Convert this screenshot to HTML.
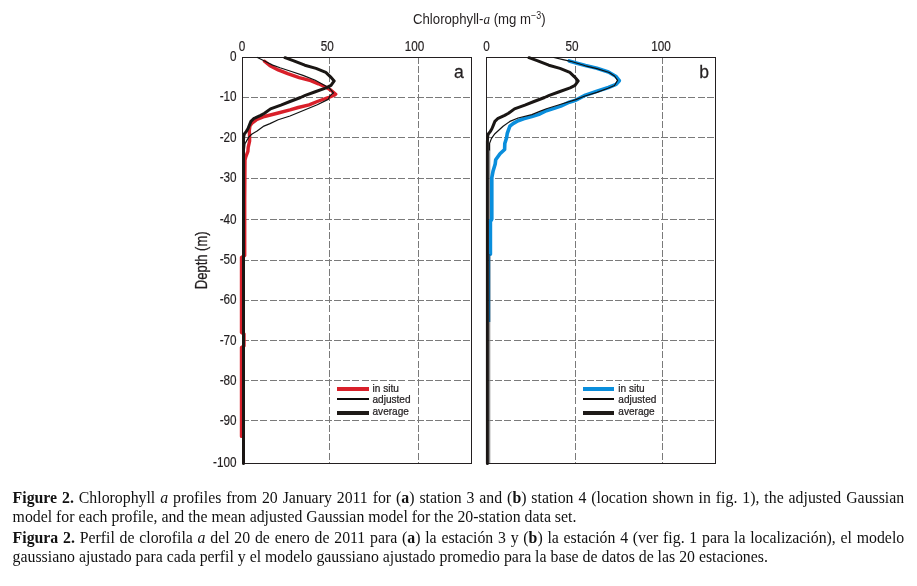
<!DOCTYPE html>
<html><head><meta charset="utf-8"><title>Figure 2</title>
<style>
html,body{margin:0;padding:0;background:#fff;}
body{width:917px;height:586px;position:relative;overflow:hidden;}
.gs{position:absolute;left:0;top:0;width:917px;height:586px;will-change:transform;}
.cap{position:absolute;left:12.6px;width:891.6px;font-family:"Liberation Serif","Times New Roman",serif;font-size:15.82px;line-height:20px;color:#111;white-space:nowrap;text-align:justify;text-align-last:justify;}
.cap.last{text-align:left;text-align-last:left;}
</style></head>
<body>
<div class="gs">
<svg width="917" height="470" viewBox="0 0 917 470" style="position:absolute;left:0;top:0">
<g stroke="#7a7a7a" stroke-width="1" stroke-dasharray="7 2.2" fill="none" shape-rendering="crispEdges">
<line x1="329.5" y1="57" x2="329.5" y2="463"/>
<line x1="418.5" y1="57" x2="418.5" y2="463"/>
<line x1="242" y1="97.5" x2="471" y2="97.5"/>
<line x1="242" y1="137.5" x2="471" y2="137.5"/>
<line x1="242" y1="178.5" x2="471" y2="178.5"/>
<line x1="242" y1="219.5" x2="471" y2="219.5"/>
<line x1="242" y1="260.5" x2="471" y2="260.5"/>
<line x1="242" y1="300.5" x2="471" y2="300.5"/>
<line x1="242" y1="340.5" x2="471" y2="340.5"/>
<line x1="242" y1="380.5" x2="471" y2="380.5"/>
<line x1="242" y1="420.5" x2="471" y2="420.5"/>
<line x1="575.5" y1="57" x2="575.5" y2="463"/>
<line x1="662.5" y1="57" x2="662.5" y2="463"/>
<line x1="486" y1="97.5" x2="715" y2="97.5"/>
<line x1="486" y1="137.5" x2="715" y2="137.5"/>
<line x1="486" y1="178.5" x2="715" y2="178.5"/>
<line x1="486" y1="219.5" x2="715" y2="219.5"/>
<line x1="486" y1="260.5" x2="715" y2="260.5"/>
<line x1="486" y1="300.5" x2="715" y2="300.5"/>
<line x1="486" y1="340.5" x2="715" y2="340.5"/>
<line x1="486" y1="380.5" x2="715" y2="380.5"/>
<line x1="486" y1="420.5" x2="715" y2="420.5"/>
</g>
<g stroke="#231f20" stroke-width="1" fill="none" shape-rendering="crispEdges">
<rect x="242.5" y="57.5" width="229" height="406"/>
<rect x="486.5" y="57.5" width="229" height="406"/>
</g>
<g fill="none" stroke-linejoin="round" stroke-linecap="round">
<polyline points="489.7,150.0 489.7,463.0" stroke="#777" stroke-width="1.1" stroke-linecap="butt"/>
<polyline points="264.5,61.2 270.0,65.8 278.2,69.9 287.7,73.6 299.2,77.6 310.7,80.7 318.4,83.8 326.1,87.3 330.7,90.0 335.7,94.2 334.7,95.0 328.2,97.7 317.3,101.5 309.1,104.8 298.2,107.5 290.0,109.9 278.2,113.0 264.5,116.5 256.4,119.8 252.0,123.1 249.9,126.1 249.3,130.9 249.6,137.0 249.6,141.1 248.2,147.3 247.9,151.4 245.8,156.8 245.0,160.2 244.7,200.0 244.7,255.5 241.5,257.5 241.5,332.5 244.0,334.0 244.0,346.0 241.5,347.5 241.5,436.4" stroke="#d9202a" stroke-width="3.4"/>
<polyline points="569.2,60.9 577.0,63.2 585.4,65.6 596.9,68.3 608.4,72.0 616.1,76.5 619.3,80.7 616.1,84.4 608.4,87.5 596.9,91.3 585.4,95.2 575.8,100.2 569.3,102.2 560.8,106.1 554.9,108.1 546.4,110.7 539.8,114.0 531.8,116.6 523.6,118.7 518.1,120.7 513.4,123.4 509.9,126.2 508.6,129.6 507.2,133.7 506.6,137.8 504.8,143.5 504.6,149.5 500.0,153.8 495.7,159.8 495.2,164.0 493.1,170.9 491.8,177.7 491.8,219.0 490.4,221.5 490.4,254.3" stroke="#0a8edc" stroke-width="3.6"/>
<polyline points="489.6,254.0 489.6,322.0" stroke="#0e5a8c" stroke-width="1.4" stroke-linecap="butt"/>
<polyline points="257.4,57.5 264.5,61.0 272.7,65.1 280.0,67.8 291.5,71.5 303.0,75.4 315.3,80.3 323.0,84.6 329.2,88.0 333.5,92.8 330.0,95.7 328.2,99.4 317.3,104.8 306.4,109.2 290.0,116.0 278.2,119.8 270.0,123.6 263.9,126.1 257.1,130.9 251.7,134.3 248.9,137.0 246.9,140.4 245.0,143.8 244.4,150.0 244.3,463.0" stroke="#111" stroke-width="1.2"/>
<polyline points="553.8,57.5 563.0,59.6 570.7,61.3 585.4,65.8 596.9,68.6 609.2,72.5 614.5,76.0 617.6,80.3 614.5,85.5 608.0,88.2 596.9,92.4 585.0,96.0 575.8,99.6 560.8,104.3 546.4,108.7 539.8,111.4 531.8,114.6 518.1,118.0 509.9,121.4 503.1,126.2 494.9,133.7 491.5,138.4 489.6,143.2 489.6,150.0" stroke="#111" stroke-width="1.2"/>
<polyline points="285.0,57.7 293.8,60.8 304.8,65.2 316.0,68.4 325.8,72.3 330.5,76.8 334.2,80.9 331.0,85.4 326.1,87.8 314.6,92.0 305.3,95.3 300.5,97.5 290.0,101.5 280.9,105.1 270.5,108.9 264.5,113.3 260.7,115.4 253.6,118.7 250.9,121.4 249.3,125.4 247.9,128.8 246.2,131.6 244.3,134.0 243.7,137.0 243.5,141.0 243.5,463.5" stroke="#1a1614" stroke-width="3"/>
<polyline points="529.0,57.7 537.8,60.8 548.8,65.2 560.0,68.4 569.8,72.3 574.5,76.8 578.2,80.9 575.0,85.4 570.1,87.8 558.6,92.0 549.3,95.3 544.5,97.5 534.0,101.5 524.9,105.1 514.5,108.9 508.5,113.3 504.7,115.4 497.6,118.7 494.9,121.4 493.3,125.4 491.9,128.8 490.2,131.6 488.3,134.0 488.0,134.5 487.6,137.5 487.4,141.5 487.4,463.5" stroke="#1a1614" stroke-width="3"/>
</g>
<g font-family="Liberation Sans, Arial, sans-serif" fill="#231f20">
<text transform="translate(242.0,50.8) scale(0.84,1)" font-size="14" text-anchor="middle" stroke="#231f20" stroke-width="0.2">0</text>
<text transform="translate(327.3,50.8) scale(0.84,1)" font-size="14" text-anchor="middle" stroke="#231f20" stroke-width="0.2">50</text>
<text transform="translate(414.5,50.8) scale(0.84,1)" font-size="14" text-anchor="middle" stroke="#231f20" stroke-width="0.2">100</text>
<text transform="translate(486.5,50.8) scale(0.84,1)" font-size="14" text-anchor="middle" stroke="#231f20" stroke-width="0.2">0</text>
<text transform="translate(572.0,50.8) scale(0.84,1)" font-size="14" text-anchor="middle" stroke="#231f20" stroke-width="0.2">50</text>
<text transform="translate(661.0,50.8) scale(0.84,1)" font-size="14" text-anchor="middle" stroke="#231f20" stroke-width="0.2">100</text>
<text transform="translate(236.6,61.1) scale(0.84,1)" font-size="14" text-anchor="end" stroke="#231f20" stroke-width="0.2">0</text>
<text transform="translate(236.6,101.1) scale(0.84,1)" font-size="14" text-anchor="end" stroke="#231f20" stroke-width="0.2">-10</text>
<text transform="translate(236.6,142.2) scale(0.84,1)" font-size="14" text-anchor="end" stroke="#231f20" stroke-width="0.2">-20</text>
<text transform="translate(236.6,182.2) scale(0.84,1)" font-size="14" text-anchor="end" stroke="#231f20" stroke-width="0.2">-30</text>
<text transform="translate(236.6,224.2) scale(0.84,1)" font-size="14" text-anchor="end" stroke="#231f20" stroke-width="0.2">-40</text>
<text transform="translate(236.6,264.2) scale(0.84,1)" font-size="14" text-anchor="end" stroke="#231f20" stroke-width="0.2">-50</text>
<text transform="translate(236.6,304.2) scale(0.84,1)" font-size="14" text-anchor="end" stroke="#231f20" stroke-width="0.2">-60</text>
<text transform="translate(236.6,345.2) scale(0.84,1)" font-size="14" text-anchor="end" stroke="#231f20" stroke-width="0.2">-70</text>
<text transform="translate(236.6,385.2) scale(0.84,1)" font-size="14" text-anchor="end" stroke="#231f20" stroke-width="0.2">-80</text>
<text transform="translate(236.6,425.2) scale(0.84,1)" font-size="14" text-anchor="end" stroke="#231f20" stroke-width="0.2">-90</text>
<text transform="translate(236.6,467.1) scale(0.84,1)" font-size="14" text-anchor="end" stroke="#231f20" stroke-width="0.2">-100</text>
<text transform="translate(458.9,77.8) scale(0.95,1)" font-size="18.5" text-anchor="middle" stroke="#231f20" stroke-width="0.25">a</text>
<text transform="translate(704.2,77.8) scale(0.95,1)" font-size="18.5" text-anchor="middle" stroke="#231f20" stroke-width="0.25">b</text>
<text transform="translate(413.0,23.6) scale(0.892,1)" font-size="14.8">Chlorophyll-<tspan font-family="Liberation Serif, serif" font-style="italic">a</tspan> (mg m<tspan font-size="10" dy="-4.3">&#8722;3</tspan><tspan dy="4.3">)</tspan></text>
<text transform="translate(207.3,260.3) rotate(-90) scale(0.765,1)" font-size="17" text-anchor="middle" stroke="#231f20" stroke-width="0.3">Depth (m)</text>
<rect x="337" y="387" width="32" height="4" fill="#d9202a"/>
<rect x="337" y="398" width="32" height="2" fill="#0d0b0a"/>
<rect x="337" y="411" width="32" height="4" fill="#1e1a17"/>
<text transform="translate(372.5,392.3) scale(0.9,1)" font-size="11.2" text-anchor="start" stroke="#231f20" stroke-width="0.25">in situ</text>
<text transform="translate(372.5,403.1) scale(0.9,1)" font-size="11.2" text-anchor="start" stroke="#231f20" stroke-width="0.25">adjusted</text>
<text transform="translate(372.5,415.0) scale(0.9,1)" font-size="11.2" text-anchor="start" stroke="#231f20" stroke-width="0.25">average</text>
<rect x="583" y="387" width="31" height="4" fill="#0a8edc"/>
<rect x="583" y="398" width="31" height="2" fill="#0d0b0a"/>
<rect x="583" y="411" width="31" height="4" fill="#1e1a17"/>
<text transform="translate(618.3,392.3) scale(0.9,1)" font-size="11.2" text-anchor="start" stroke="#231f20" stroke-width="0.25">in situ</text>
<text transform="translate(618.3,403.1) scale(0.9,1)" font-size="11.2" text-anchor="start" stroke="#231f20" stroke-width="0.25">adjusted</text>
<text transform="translate(618.3,415.0) scale(0.9,1)" font-size="11.2" text-anchor="start" stroke="#231f20" stroke-width="0.25">average</text>
</g>
</svg>

<div class="cap" style="top:487.96px"><b>Figure 2.</b> Chlorophyll <i>a</i> profiles from 20 January 2011 for (<b>a</b>) station 3 and (<b>b</b>) station 4 (location shown in fig. 1), the adjusted Gaussian</div>
<div class="cap last" style="top:506.56px">model for each profile, and the mean adjusted Gaussian model for the 20-station data set.</div>
<div class="cap" style="top:528.26px"><b>Figura 2.</b> Perfil de clorofila <i>a</i> del 20 de enero de 2011 para (<b>a</b>) la estación 3 y (<b>b</b>) la estación 4 (ver fig. 1 para la localización), el modelo</div>
<div class="cap last" style="top:547.46px">gaussiano ajustado para cada perfil y el modelo gaussiano ajustado promedio para la base de datos de las 20 estaciones.</div>

</div>
</body></html>
